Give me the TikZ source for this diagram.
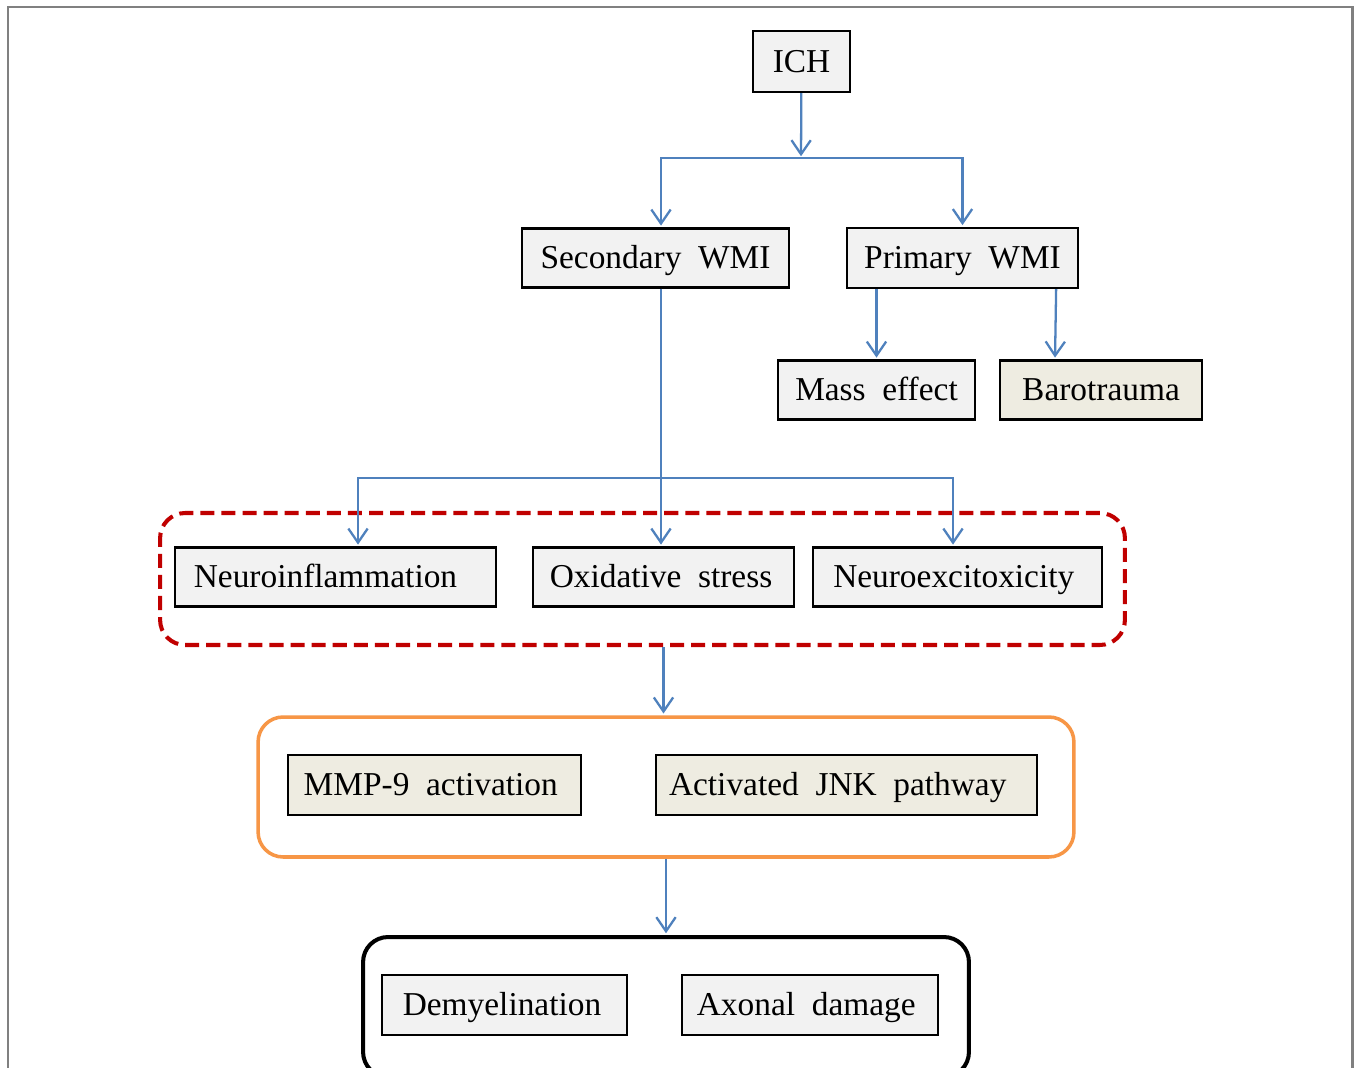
\documentclass[tikz,border=0pt]{standalone}
\usepackage{fontspec}
\setmainfont{Liberation Serif}
\usetikzlibrary{arrows.meta,calc}
\definecolor{linkblue}{HTML}{4F81BD}
\definecolor{boxgray}{HTML}{F2F2F2}
\definecolor{boxbeige}{HTML}{EEECE1}
\definecolor{grpred}{HTML}{C00000}
\definecolor{grporange}{HTML}{F79646}
\tikzset{
  box/.style={draw,line width=1.3pt,fill=boxgray,inner sep=0pt,minimum height=1.18cm,
    text height=13pt,text depth=0.5pt,font=\rmfamily\fontsize{19}{22}\selectfont},
  beige/.style={box,fill=boxbeige},
  group/.style={rounded corners=0.5cm,inner sep=0pt},
  link/.style={draw=linkblue,line width=1.3pt,-{Straight Barb[length=8pt,width=11pt]},shorten >=1pt},
  branch/.style={draw=linkblue,line width=1.3pt}
}
\begin{document}
\begin{tikzpicture}[x=0.02cm,y=-0.02cm]
 \clip (0,0) rectangle (1354,1067);
 \fill[white] (0,0) rectangle (1354,1067);
 \draw[gray,line width=1.2pt] (8,1070)--(8,7)--(1352.5,7)--(1352.5,1070);
 \node[group,draw=grpred,line width=2.3pt,dash pattern=on 8pt off 4pt,minimum width=19.3cm,minimum height=2.64cm] (grpA) at (642.5,579) {};
 \node[group,draw=grporange,line width=2pt,minimum width=16.32cm,minimum height=2.8cm] (grpB) at (666,787) {};
 \node[group,draw=black,line width=2.3pt,minimum width=12.12cm,minimum height=2.8cm] (grpC) at (666,1007) {};
 \node[box,minimum width=1.94cm,minimum height=1.22cm] (ich) at (801.5,61.5) {ICH};
 \node[box,minimum width=5.34cm] (secwmi) at (655.5,258) {Secondary\ \ WMI};
 \node[box,minimum width=4.62cm,minimum height=1.2cm] (priwmi) at (962.5,258) {Primary\ \ WMI};
 \node[box,minimum width=3.94cm] (mass) at (876.5,390) {Mass\ \ effect};
 \node[beige,minimum width=4.04cm] (baro) at (1101,390) {Barotrauma};
 \node[box,minimum width=6.42cm] (neuinf) at (335.5,577) {Neuroinflammation\hspace*{0.4cm}};
 \node[box,minimum width=5.22cm] (oxid) at (663.5,577) {Oxidative\ \ stress\hspace*{0.1cm}};
 \node[box,minimum width=5.78cm] (neuexc) at (957.5,577) {Neuroexcitoxicity\hspace*{0.15cm}};
 \node[beige,minimum width=5.86cm,minimum height=1.2cm] (mmp) at (434.5,785) {MMP-9\ \ activation\hspace*{0.15cm}};
 \node[beige,minimum width=7.62cm,minimum height=1.2cm] (jnk) at (846.5,785) {Activated\ \ JNK\ \ pathway\hspace*{0.35cm}};
 \node[box,minimum width=4.9cm,minimum height=1.2cm] (demy) at (504.5,1005) {Demyelination\hspace*{0.1cm}};
 \node[box,minimum width=5.12cm,minimum height=1.2cm] (axon) at (810,1005) {Axonal\ \ damage\hspace*{0.15cm}};
 \coordinate (split) at (801,158);
 \coordinate (fork) at (661,478);
 \draw[link] (ich) -- (split);
 \draw[link] (split) -| ($(secwmi.north)+(5.5,0)$);
 \draw[link] (split) -| (priwmi.north);
 \draw[link] (priwmi.south -| mass) -- (mass);
 \draw[link] ($(priwmi.south east)+(-23,0)$) -- ($(baro.north)+(-46,0)$);
 \draw[branch] (secwmi.south -| fork) -- (fork);
 \draw[link] (fork) -- (oxid.north -| fork);
 \draw[link] (fork) -| ($(neuinf.north)+(22.5,0)$);
 \draw[link] (fork) -| ($(neuexc.north)+(-4.5,0)$);
 \draw[link] (grpA.south -| oxid) -- (grpB.north -| oxid);
 \draw[link] (grpB) -- (grpC);
\end{tikzpicture}
\end{document}
